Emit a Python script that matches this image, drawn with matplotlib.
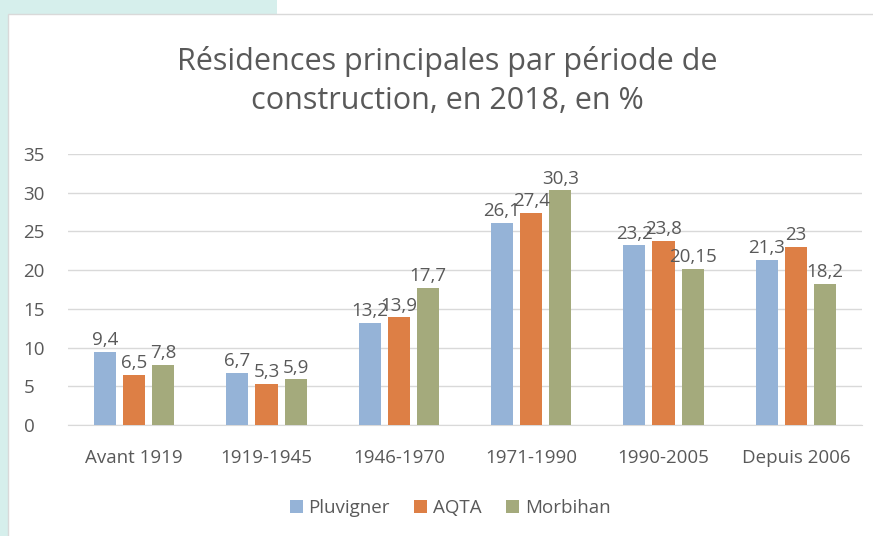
import matplotlib.pyplot as plt
from matplotlib.patches import Rectangle
import numpy as np

categories = ['Avant 1919', '1919-1945', '1946-1970', '1971-1990', '1990-2005', 'Depuis 2006']
pluvigner = [9.4, 6.7, 13.2, 26.1, 23.2, 21.3]
aqta = [6.5, 5.3, 13.9, 27.4, 23.8, 23]
morbihan = [7.8, 5.9, 17.7, 30.3, 20.15, 18.2]
series_names = ['Pluvigner', 'AQTA', 'Morbihan']
colors = ['#95b3d7', '#dd7f45', '#a4aa7c']

plt.rcParams['font.family'] = ['Open Sans', 'DejaVu Sans']
txt = '#595959'
fs = 13.5

fig = plt.figure(figsize=(8.73, 5.36), dpi=100)
fig.patch.set_facecolor('white')
# teal background strips and white card
fig.patches.append(Rectangle((0, 0), 8 / 873, 1, transform=fig.transFigure,
                             facecolor='#d6efec', edgecolor='none', zorder=-3))
fig.patches.append(Rectangle((0, 1 - 14 / 536), 277 / 873, 14 / 536, transform=fig.transFigure,
                             facecolor='#d6efec', edgecolor='none', zorder=-3))
fig.patches.append(Rectangle((8 / 873, -0.01), 1, 1 - 14 / 536 + 0.01, transform=fig.transFigure,
                             facecolor='white', edgecolor='#d9d9d9', lw=1, zorder=-2))

ax = fig.add_axes([68 / 873, 111 / 536, 794 / 873, 271 / 536])
ax.set_facecolor('none')

x = np.arange(len(categories))
w = 0.167
offs = [-0.22, 0, 0.22]
for vals, name, c, o in zip([pluvigner, aqta, morbihan], series_names, colors, offs):
    bars = ax.bar(x + o, vals, w, color=c, label=name, zorder=3)
    for b, v in zip(bars, vals):
        s = ('%g' % v).replace('.', ',')
        ax.annotate(s, (b.get_x() + b.get_width() / 2, v), xytext=(0, 2),
                    textcoords='offset points', ha='center', va='bottom',
                    fontsize=fs, color=txt, zorder=4)

ax.set_xlim(-0.5, len(categories) - 0.5)
ax.set_ylim(0, 35)
ax.set_yticks(range(0, 36, 5))
ax.yaxis.grid(True, color='#d9d9d9', lw=1, zorder=0)
ax.set_xticks(x)
ax.set_xticklabels(categories)
for s in ax.spines.values():
    s.set_visible(False)
ax.spines['bottom'].set_visible(True)
ax.spines['bottom'].set_color('#d9d9d9')
ax.tick_params(axis='both', length=0, labelsize=fs, labelcolor=txt)
ax.tick_params(axis='x', pad=17)
ax.tick_params(axis='y', pad=32)
for lbl in ax.get_yticklabels():
    lbl.set_horizontalalignment('left')

fig.text(447 / 873, 1 - 81 / 536, 'Résidences principales par période de\nconstruction, en 2018, en %',
         ha='center', va='center', fontsize=22, color=txt, linespacing=1.4)

fig.legend(loc='center', bbox_to_anchor=(450 / 873, 1 - 508 / 536), ncol=3, frameon=False,
           fontsize=fs, labelcolor=txt, handlelength=0.7, handleheight=0.7,
           handletextpad=0.3, columnspacing=1.3)

fig.savefig('out.png', dpi=100)
